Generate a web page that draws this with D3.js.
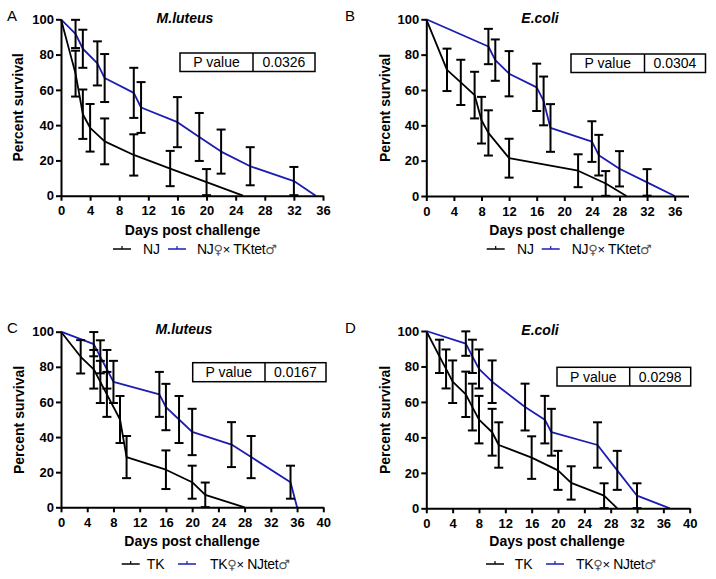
<!DOCTYPE html>
<html><head><meta charset="utf-8">
<script src="https://cdn.jsdelivr.net/npm/d3@7"></script>
<style>
body{margin:0;background:#fff}
svg{display:block}
text{font-family:Arial,"Liberation Sans",sans-serif;fill:#000}
</style>
</head><body>
<svg id="c" width="716" height="579"></svg>
<script>
// ---------- data ----------
const yTicks = [0, 20, 40, 60, 80, 100];
const xTicks36 = [0, 4, 8, 12, 16, 20, 24, 28, 32, 36];
const xTicks40 = [0, 4, 8, 12, 16, 20, 24, 28, 32, 36, 40];

const panelLetters = ["A", "B", "C", "D"];
const panelTitles = ["M.luteus", "E.coli", "M.luteus", "E.coli"];
const pValues = ["0.0326", "0.0304", "0.0167", "0.0298"];
const legendNames1 = ["NJ", "NJ", "TK", "TK"];
// second legend entry split into parts: [female strain, "♀", "× ", male strain, "♂"]
const legendNames2 = [
  ["NJ", "\u2640", "\u00d7 ", "TKtet", "\u2642"],
  ["NJ", "\u2640", "\u00d7 ", "TKtet", "\u2642"],
  ["TK", "\u2640", "\u00d7 ", "NJtet", "\u2642"],
  ["TK", "\u2640", "\u00d7 ", "NJtet", "\u2642"]
];

// Panel A (M.luteus) NJ vs NJ x TKtet
const aDays1 = [0, 2, 3, 4, 6, 10, 15, 20, 25];
const aSurv1 = [100, 69.2, 46.2, 38.5, 30.8, 23.1, 15.4, 7.7, 0];
const aErr1  = [0, 13, 14, 13.5, 13, 11.7, 10, 7.4, 0];
const aDays2 = [0, 2, 3, 5, 6, 10, 11, 16, 19, 22, 26, 32, 35];
const aSurv2 = [100, 91.7, 83.3, 75, 66.7, 58.3, 50, 41.7, 33.3, 25, 16.7, 8.3, 0];
const aErr2  = [0, 8, 10.8, 12.5, 13.6, 14.2, 14.4, 14.2, 13.6, 12.5, 10.8, 8, 0];

// Panel B (E.coli) NJ vs NJ x TKtet
const bDays1 = [0, 3, 5, 7, 8, 9, 12, 22, 26, 29];
const bSurv1 = [100, 71.4, 64.3, 57.1, 42.9, 35.7, 21.4, 14.3, 7.1, 0];
const bErr1  = [0, 12, 12.8, 13.2, 13.2, 12.8, 11, 9.3, 7, 0];
const bDays2 = [0, 9, 10, 12, 16, 17, 18, 24, 25, 28, 32, 36];
const bSurv2 = [100, 84.6, 76.9, 69.2, 61.5, 53.8, 38.5, 30.8, 23.1, 15.4, 7.7, 0];
const bErr2  = [0, 10, 11.7, 12.8, 13.4, 13.8, 13.5, 11.5, 11.5, 10, 7.5, 0];

// Panel C (M.luteus) TK vs TK x NJtet
const cDays1 = [0, 3, 5, 6, 7, 9, 10, 16, 20, 22, 28];
const cSurv1 = [100, 85.7, 78.6, 71.4, 64.3, 50, 28.6, 21.4, 14.3, 7.1, 0];
const cErr1  = [0, 9.5, 11, 12, 12.8, 13.4, 12, 11, 9.4, 7, 0];
const cDays2 = [0, 5, 6, 7, 8, 15, 16, 18, 20, 26, 29, 35, 36];
const cSurv2 = [100, 92.9, 85.7, 78.6, 71.4, 64.3, 57.1, 50, 42.9, 35.7, 28.6, 14.3, 0];
const cErr2  = [0, 6.9, 9.4, 11, 12, 12.8, 13.2, 13.4, 13.2, 12.8, 12, 9.4, 0];

// Panel D (E.coli) TK vs TK x NJtet
const dDays1 = [0, 2, 3, 4, 6, 7, 8, 10, 11, 16, 20, 22, 27, 29];
const dSurv1 = [100, 85.7, 78.6, 71.4, 64.3, 57.1, 50, 42.9, 35.7, 28.6, 21.4, 14.3, 7.1, 0];
const dErr1  = [0, 9.4, 11, 12, 12.8, 13.2, 13.4, 13.2, 12.8, 12, 11, 9.4, 7, 0];
const dDays2 = [0, 6, 7, 8, 10, 15, 18, 19, 26, 29, 32, 37];
const dSurv2 = [100, 92.9, 85.7, 78.6, 71.4, 57.1, 50, 42.9, 35.7, 21.4, 7.1, 0];
const dErr2  = [0, 6.9, 9.4, 11, 12, 13.2, 13.4, 13.2, 12.8, 11, 7, 0];

// ---------- layout ----------
const BLUE = "#1c1cb4";
const layouts = [
  {x0:61, x1:323, xMax:36, ticks:xTicks36, yTop:19.3, yBot:195.7, letter:[7,20.7], title:[185,22.5], ylab:[23,107.5], xlab:[192.5,234.5],
   pbox:[180,53,135,18.5,73], leg:[249,113,143,168,197]},
  {x0:426.3, x1:688.5, xMax:38, ticks:xTicks36, yTop:19.3, yBot:196, letter:[345,20.7], title:[540,22.5], ylab:[389.5,108], xlab:[557,234.5],
   pbox:[571,54,134.5,18.5,73.5], leg:[249,486.7,517,541.7,571.7]},
  {x0:61, x1:323.3, xMax:40, ticks:xTicks40, yTop:331.7, yBot:507.3, letter:[7,332.7], title:[184,334], ylab:[23.5,420], xlab:[192,545.5],
   pbox:[192.7,362.7,133.3,19,72.3], leg:[564,121.7,146.7,178,210]},
  {x0:426.3, x1:689.7, xMax:40, ticks:xTicks40, yTop:331, yBot:508.3, letter:[345,332.7], title:[540,335], ylab:[390,420], xlab:[557,546],
   pbox:[557,367.3,133.7,18.7,72.7], leg:[564,486,514.7,546,576]}
];
const seriesSets = [
  [[aDays1,aSurv1,aErr1],[aDays2,aSurv2,aErr2]],
  [[bDays1,bSurv1,bErr1],[bDays2,bSurv2,bErr2]],
  [[cDays1,cSurv1,cErr1],[cDays2,cSurv2,cErr2]],
  [[dDays1,dSurv1,dErr1],[dDays2,dSurv2,dErr2]]
];

const svg = d3.select("#c");

layouts.forEach((L, i) => {
  const g = svg.append("g");
  const x = d3.scaleLinear().domain([0, L.xMax]).range([L.x0, L.x1]);
  const y = d3.scaleLinear().domain([0, 100]).range([L.yBot, L.yTop]);

  // lines
  const colors = ["#000", BLUE];
  seriesSets[i].forEach((s, k) => {
    const pts = s[0].map((d, j) => ({d, v: s[1][j], e: s[2][j]}));
    g.append("path").datum(pts)
      .attr("fill", "none").attr("stroke", colors[k]).attr("stroke-width", 1.8)
      .attr("stroke-linejoin", "round")
      .attr("d", d3.line().x(p => x(p.d)).y(p => y(p.v)));
  });
  // error bars (black)
  seriesSets[i].forEach((s) => {
    const pts = s[0].map((d, j) => ({d, v: s[1][j], e: s[2][j]})).filter(p => p.e > 0);
    const eb = g.append("g").attr("stroke", "#000").attr("stroke-width", 2).attr("fill", "none");
    pts.forEach(p => {
      const xx = x(p.d), yt = y(Math.min(100, p.v + p.e)), yb = y(Math.max(0, p.v - p.e));
      eb.append("line").attr("x1", xx).attr("x2", xx).attr("y1", yt).attr("y2", yb);
      eb.append("line").attr("x1", xx - 4.5).attr("x2", xx + 4.5).attr("y1", yt).attr("y2", yt);
      eb.append("line").attr("x1", xx - 4.5).attr("x2", xx + 4.5).attr("y1", yb).attr("y2", yb);
    });
  });

  // axes
  const xAxis = g.append("g").attr("transform", `translate(0,${L.yBot})`)
    .call(d3.axisBottom(x).tickValues(L.ticks).tickSize(5).tickPadding(3).tickSizeOuter(0));
  const yAxis = g.append("g").attr("transform", `translate(${L.x0},0)`)
    .call(d3.axisLeft(y).tickValues(yTicks).tickSize(5).tickPadding(2).tickSizeOuter(0));
  [xAxis, yAxis].forEach(a => {
    a.select(".domain").attr("stroke", "#000").attr("stroke-width", 2);
    a.selectAll(".tick line").attr("stroke", "#000").attr("stroke-width", 2);
    a.selectAll(".tick text").attr("font-size", 13).attr("font-weight", "bold")
      .attr("font-family", "Arial, 'Liberation Sans', sans-serif").attr("fill", "#000");
  });
  xAxis.selectAll(".tick text").attr("dy", "0.9em");

  // letter
  g.append("text").attr("x", L.letter[0]).attr("y", L.letter[1]).attr("font-size", 15).text(panelLetters[i]);
  // title
  g.append("text").attr("x", L.title[0]).attr("y", L.title[1]).attr("text-anchor", "middle")
    .attr("font-size", 14).attr("font-weight", "bold").attr("font-style", "italic").text(panelTitles[i]);
  // y label
  g.append("text").attr("transform", `translate(${L.ylab[0]},${L.ylab[1]}) rotate(-90)`)
    .attr("text-anchor", "middle").attr("font-size", 14).attr("font-weight", "bold").text("Percent survival");
  // x label
  g.append("text").attr("x", L.xlab[0]).attr("y", L.xlab[1]).attr("text-anchor", "middle")
    .attr("font-size", 14).attr("font-weight", "bold").text("Days post challenge");

  // P value box
  const [bx, by, bw, bh, bd] = L.pbox;
  g.append("rect").attr("x", bx).attr("y", by).attr("width", bw).attr("height", bh)
    .attr("fill", "#fff").attr("stroke", "#000").attr("stroke-width", 1.5);
  g.append("line").attr("x1", bx + bd).attr("x2", bx + bd).attr("y1", by).attr("y2", by + bh)
    .attr("stroke", "#000").attr("stroke-width", 1.5);
  g.append("text").attr("x", bx + bd / 2).attr("y", by + bh / 2 + 5).attr("text-anchor", "middle")
    .attr("font-size", 14).text("P value");
  g.append("text").attr("x", bx + bd + (bw - bd) / 2).attr("y", by + bh / 2 + 5).attr("text-anchor", "middle")
    .attr("font-size", 14).text(pValues[i]);

  // legend
  const [ly, lx1, lt1, lx2, lt2] = L.leg;
  [[lx1, "#000"], [lx2, BLUE]].forEach(([lx, c]) => {
    g.append("line").attr("x1", lx).attr("x2", lx + 18).attr("y1", ly).attr("y2", ly)
      .attr("stroke", c).attr("stroke-width", 1.5);
    g.append("line").attr("x1", lx + 9).attr("x2", lx + 9).attr("y1", ly - 3).attr("y2", ly)
      .attr("stroke", c).attr("stroke-width", 1.2);
  });
  g.append("text").attr("x", lt1).attr("y", ly + 5).attr("font-size", 14).text(legendNames1[i]);
  const t2 = g.append("text").attr("x", lt2).attr("y", ly + 5).attr("font-size", 14)
    .attr("letter-spacing", "-0.3");
  const parts = legendNames2[i];
  t2.append("tspan").text(parts[0]);
  t2.append("tspan").attr("font-family", "'DejaVu Sans'").attr("font-size", 13).attr("fill", "#555").text(parts[1]);
  t2.append("tspan").attr("font-size", 13).text(parts[2]);
  t2.append("tspan").text(parts[3]);
  t2.append("tspan").attr("font-family", "'DejaVu Sans'").attr("font-size", 13).attr("fill", "#555").text(parts[4]);
});
</script>
</body></html>
